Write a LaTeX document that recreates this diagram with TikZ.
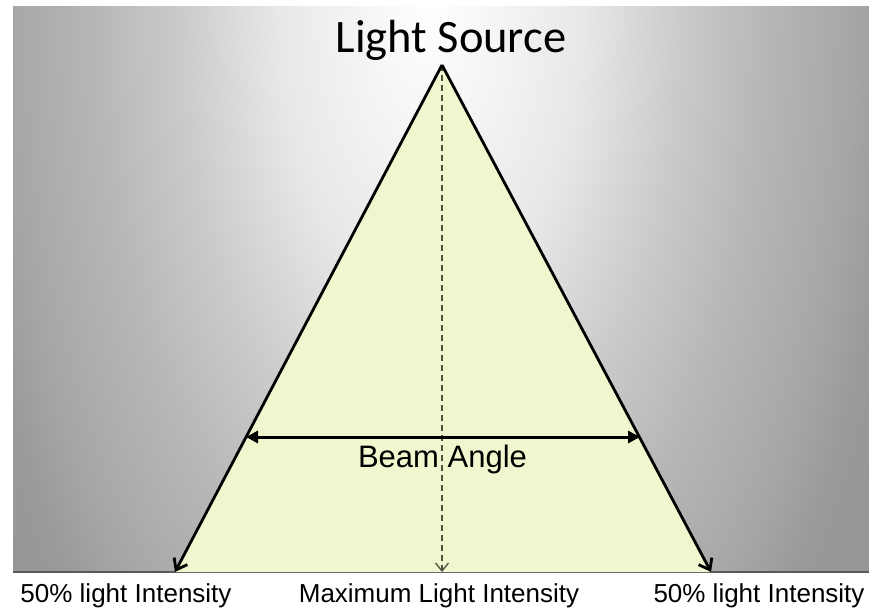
\documentclass[tikz,border=0pt]{standalone}
\usepackage{fontspec}
\setmainfont{Liberation Sans}
\newfontfamily\calib{Carlito}
\usetikzlibrary{arrows.meta}
\definecolor{beamfill}{RGB}{242,246,206}
\definecolor{dashcol}{RGB}{80,80,64}
\pgfdeclareradialshading{bgsh}{\pgfpoint{0bp}{0bp}}{color(0bp)=(white); color(8bp)=(black!9); color(13bp)=(black!20); color(17.5bp)=(black!28); color(22.5bp)=(black!35); color(25bp)=(black!40); color(50bp)=(black!50)}
\tikzset{
  edgearrow/.style={line width=2.8pt, -{Straight Barb[length=10pt,width=15pt,line width=2.8pt]}},
  beamarrow/.style={line width=3pt, {Triangle[length=12pt,width=12pt]}-{Triangle[length=12pt,width=12pt]}},
  axisarrow/.style={line width=1.3pt, dashcol, dash pattern=on 6pt off 4pt, -{Straight Barb[length=8pt,width=13pt,line width=1.3pt]}},
  lbl/.style={anchor=base, inner sep=0pt, font=\fontsize{26}{30}\selectfont},
}
\begin{document}
\begin{tikzpicture}[x=1pt,y=-1pt]
\useasboundingbox (0,0) rectangle (869,612);
\fill[white] (0,0) rectangle (869,612);
\begin{scope}
\clip (13,7) rectangle (869,572);
\shade[shading=bgsh] (-42.5,-893) rectangle (902.5,907);
\end{scope}
\draw[line width=2pt, black!65] (13,572) -- (869,572);
\coordinate (apex) at (442,65);
\coordinate (bl) at (175,572);
\coordinate (br) at (711,572);
\coordinate (bm) at (442,572);
\coordinate (ba) at (246,437);
\coordinate (bb) at (640,437);
\fill[beamfill] (apex) -- (bl) -- (br) -- cycle;
\draw[axisarrow] (apex) -- (bm);
\draw[edgearrow] (apex) -- (bl);
\draw[edgearrow] (apex) -- (br);
\draw[beamarrow] (ba) -- (bb);
\node[anchor=base, inner sep=0pt, font=\calib\fontsize{46.5}{50}\selectfont] (src) at (451,53) {Light Source};
\node[anchor=base, inner sep=0pt, font=\fontsize{31}{36}\selectfont] (beam) at (442.5,467) {Beam Angle};
\node[lbl] (l1) at (126,602) {50\% light Intensity};
\node[lbl] (l2) at (439,602) {Maximum Light Intensity};
\node[lbl] (l3) at (759,602) {50\% light Intensity};
\end{tikzpicture}
\end{document}
